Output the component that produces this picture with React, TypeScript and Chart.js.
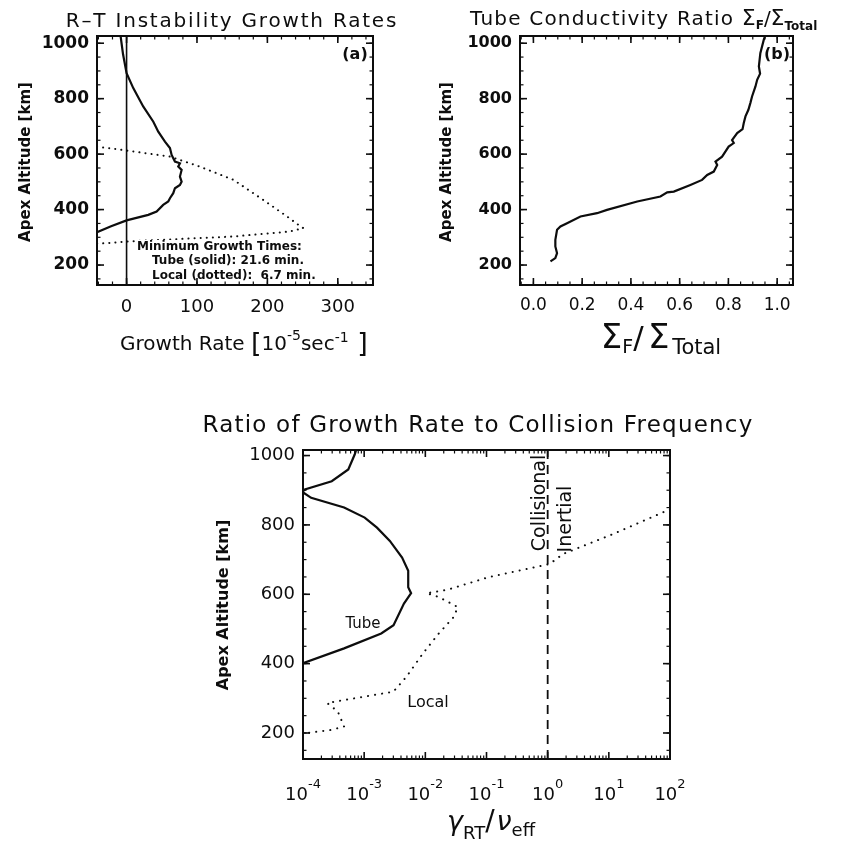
import React, { useEffect, useRef } from "react";
import { Chart, registerables } from "chart.js";

Chart.register(...registerables);

const FONT = "'DejaVu Sans', sans-serif";
const INK = "#0d0d0d";

// ---------- Panel (a): R-T instability growth rates ----------
const altTubeA = [1026, 960, 892, 838, 772, 717, 681, 645, 622, 597, 573, 567, 555, 543, 519, 501, 489, 477, 459, 441, 429, 417, 393, 381, 361, 340, 318];
const rateTubeA = [-8.5, -5, 0, 9.5, 23.6, 38, 45, 54.5, 61.6, 64, 68.7, 75.8, 73.4, 78.2, 75.8, 78.2, 75.8, 68.7, 66.3, 61.6, 59.2, 52, 42.7, 30.8, 0, -22, -42];
const altLocalA = [626, 622, 613, 591, 555, 507, 435, 375, 345, 333, 321, 303, 285, 279, 277];
const rateLocalA = [-42, -26, 0, 61.6, 104, 152, 194, 228, 244, 251, 232, 152, 0, -28.5, -42];
const zeroRateA = [0, 0];
const altRangeAB = [128, 1026];
const rateRangeA = [-42, 350];
const rateTicksA = [0, 100, 200, 300];
const altTicks = [200, 400, 600, 800, 1000];

// ---------- Panel (b): tube conductivity ratio ----------
const altRatioB = [213, 225, 243, 267, 291, 327, 339, 351, 375, 387, 399, 429, 447, 462, 465, 489, 507, 525, 537, 561, 573, 591, 627, 640, 651, 676, 690, 712, 736, 760, 784, 808, 844, 868, 890, 916, 964, 1012, 1030];
const ratioB = [0.07, 0.09, 0.097, 0.09, 0.09, 0.097, 0.111, 0.138, 0.193, 0.261, 0.302, 0.426, 0.521, 0.549, 0.576, 0.644, 0.692, 0.713, 0.74, 0.754, 0.747, 0.774, 0.801, 0.822, 0.815, 0.836, 0.858, 0.863, 0.87, 0.882, 0.89, 0.897, 0.911, 0.918, 0.93, 0.925, 0.931, 0.945, 0.952];
const ratioRangeB = [-0.055, 1.065];
const ratioTicksB = [0, 0.2, 0.4, 0.6, 0.8, 1.0];

// ---------- Panel (c): growth rate / collision frequency ----------
const altTubeC = [1016, 1003, 960, 926, 902, 895, 878, 850, 821, 792, 754, 706, 668, 620, 603, 573, 511, 487, 444, 401];
const ratioTubeC = [7.4e-4, 7.0e-4, 5.5e-4, 2.95e-4, 1.07e-4, 0.98e-4, 1.36e-4, 4.7e-4, 1.02e-3, 1.62e-3, 2.63e-3, 4.17e-3, 5.25e-3, 5.25e-3, 5.85e-3, 4.47e-3, 3.02e-3, 1.9e-3, 4.7e-4, 1.0e-4];
const altLocalC = [845, 773, 716, 687, 649, 613, 603, 592, 563, 534, 487, 429, 362, 319, 305, 291, 286, 262, 219, 209, 200];
const ratioLocalC = [100, 11.5, 1.78, 1.07, 0.107, 0.023, 0.0105, 0.0166, 0.034, 0.029, 0.0166, 0.0091, 0.0049, 0.003, 1.02e-3, 3.5e-4, 2.5e-4, 3.7e-4, 4.7e-4, 2.95e-4, 1.17e-4];
const altRangeC = [125, 1016];
const ratioRangeC = [1e-4, 1e2];
const ratioExpC = [-4, -3, -2, -1, 0, 1, 2];
const boundaryC = [1, 1];

const pts = (xs: number[], ys: number[]) => xs.map((x, i) => ({ x, y: ys[i] }));

type Seg = { t: string; f: string; dy?: number; ls?: number };
type Item = {
  segs: Seg[];
  x: number;
  y: number;
  align?: "left" | "center" | "right";
  rot?: number;
  bg?: [number, number];
};

function drawRich(ctx: CanvasRenderingContext2D, it: Item) {
  const c = ctx as any;
  ctx.save();
  ctx.translate(it.x, it.y);
  if (it.rot) ctx.rotate(it.rot);
  ctx.textAlign = "left";
  ctx.textBaseline = "alphabetic";
  const ws = it.segs.map((s) => {
    ctx.font = s.f;
    c.letterSpacing = `${s.ls || 0}px`;
    return ctx.measureText(s.t).width;
  });
  const total = ws.reduce((a, b) => a + b, 0);
  let cx = it.align === "center" ? -total / 2 : it.align === "right" ? -total : 0;
  if (it.bg) {
    ctx.fillStyle = "#ffffff";
    ctx.fillRect(cx - 2, it.bg[0], total + 4, it.bg[1] - it.bg[0]);
  }
  ctx.fillStyle = INK;
  it.segs.forEach((s, i) => {
    ctx.font = s.f;
    c.letterSpacing = `${s.ls || 0}px`;
    ctx.fillText(s.t, cx, s.dy || 0);
    cx += ws[i];
  });
  c.letterSpacing = "0px";
  ctx.restore();
}

function framePlugin(opts: { xStep?: number; yStep: number; logX?: boolean }) {
  return {
    id: "frameTicks",
    afterDatasetsDraw(chart: any) {
      const { ctx, chartArea: a, scales } = chart;
      const xs = scales.x;
      const ys = scales.y;
      const seg = (x1: number, y1: number, x2: number, y2: number) => {
        ctx.beginPath();
        ctx.moveTo(x1, y1);
        ctx.lineTo(x2, y2);
        ctx.stroke();
      };
      const xt = (v: number, len: number) => {
        const p = xs.getPixelForValue(v);
        if (p < a.left + 1 || p > a.right - 1) return;
        seg(p, a.bottom, p, a.bottom - len);
        seg(p, a.top, p, a.top + len);
      };
      const yt = (v: number, len: number) => {
        const p = ys.getPixelForValue(v);
        if (p < a.top + 1 || p > a.bottom - 1) return;
        seg(a.left, p, a.left + len, p);
        seg(a.right, p, a.right - len, p);
      };
      ctx.save();
      ctx.strokeStyle = INK;
      ctx.lineWidth = 1.2;
      const xMinors: number[] = [];
      if (opts.logX) {
        const e0 = Math.round(Math.log10(xs.min));
        const e1 = Math.round(Math.log10(xs.max));
        for (let e = e0; e < e1; e++) for (let k = 2; k < 10; k++) xMinors.push(k * Math.pow(10, e));
      } else if (opts.xStep) {
        const st = opts.xStep;
        for (let i = Math.ceil(xs.min / st); i * st <= xs.max + 1e-9; i++) xMinors.push(i * st);
      }
      xMinors.forEach((v) => xt(v, 3.5));
      const yst = opts.yStep;
      for (let i = Math.ceil(ys.min / yst); i * yst <= ys.max; i++) yt(i * yst, 3.5);
      ctx.lineWidth = 1.6;
      xs.ticks.forEach((t: any) => xt(t.value, 7));
      ys.ticks.forEach((t: any) => yt(t.value, 7));
      ctx.lineWidth = 2;
      ctx.strokeRect(a.left, a.top, a.right - a.left, a.bottom - a.top);
      ctx.restore();
    },
  };
}

function textPlugin(items: Item[], extra?: (chart: any) => void) {
  return {
    id: "richText",
    afterDraw(chart: any) {
      items.forEach((it) => drawRich(chart.ctx, it));
      if (extra) extra(chart);
    },
  };
}

const baseOptions = (padding: any) => ({
  responsive: false,
  maintainAspectRatio: false,
  animation: false,
  devicePixelRatio: 1,
  events: [],
  layout: { padding },
  plugins: {
    legend: { display: false },
    tooltip: { enabled: false },
    title: { display: false },
  },
});

const solid = (data: any[], w = 2) => ({
  data,
  showLine: true,
  borderColor: INK,
  backgroundColor: INK,
  borderWidth: w,
  pointRadius: 0,
  tension: 0,
});

const dotted = (data: any[], gap = 6) => ({
  data,
  showLine: true,
  borderColor: INK,
  backgroundColor: INK,
  borderWidth: 2,
  borderDash: [0.1, gap],
  borderCapStyle: "round",
  pointRadius: 0,
  tension: 0,
});

const hidden = { display: false, drawTicks: false };
const PI2 = -Math.PI / 2;

function configA(): any {
  return {
    type: "scatter",
    data: {
      datasets: [
        solid(pts(zeroRateA, altRangeAB), 1.6),
        solid(pts(rateTubeA, altTubeA), 2.2),
        dotted(pts(rateLocalA, altLocalA), 6),
      ],
    },
    options: {
      ...baseOptions({ left: 0, top: 36, right: 47, bottom: 0 }),
      scales: {
        x: {
          type: "linear",
          min: rateRangeA[0],
          max: rateRangeA[1],
          afterBuildTicks: (s: any) => { s.ticks = rateTicksA.map((v) => ({ value: v })); },
          afterFit: (s: any) => { s.height = 85; },
          grid: hidden,
          border: { display: false },
          ticks: { color: INK, padding: 12, autoSkip: false, maxRotation: 0, font: { family: FONT, size: 18 }, callback: (v: any) => String(v) },
        },
        y: {
          type: "linear",
          min: altRangeAB[0],
          max: altRangeAB[1],
          afterBuildTicks: (s: any) => { s.ticks = altTicks.map((v) => ({ value: v })); },
          afterFit: (s: any) => { s.width = 97; },
          grid: hidden,
          border: { display: false },
          ticks: { color: INK, padding: 8, autoSkip: false, font: { family: FONT, size: 17, weight: "bold" }, callback: (v: any) => String(v) },
        },
      },
    },
    plugins: [
      framePlugin({ xStep: 20, yStep: 50 }),
      textPlugin([
        { segs: [{ t: "R–T Instability Growth Rates", f: `20px ${FONT}`, ls: 1.8 }], x: 232, y: 27, align: "center" },
        { segs: [{ t: "Apex Altitude [km]", f: `bold 15px ${FONT}` }], x: 30, y: 162, align: "center", rot: PI2 },
        {
          segs: [
            { t: "Growth Rate ", f: `20px ${FONT}` },
            { t: "[", f: `27px ${FONT}`, dy: 2 },
            { t: "10", f: `20px ${FONT}` },
            { t: "-5", f: `14px ${FONT}`, dy: -10 },
            { t: "sec", f: `20px ${FONT}` },
            { t: "-1", f: `14px ${FONT}`, dy: -8 },
            { t: " ]", f: `27px ${FONT}`, dy: 2 },
          ],
          x: 120, y: 350, align: "left",
        },
        { segs: [{ t: "(a)", f: `bold 16px ${FONT}` }], x: 355, y: 59, align: "center" },
        { segs: [{ t: "Minimum Growth Times:", f: `bold 12px ${FONT}` }], x: 137, y: 250, align: "left", bg: [-10, 3] },
        { segs: [{ t: "Tube (solid): 21.6 min.", f: `bold 12px ${FONT}` }], x: 152, y: 264, align: "left" },
        { segs: [{ t: "Local (dotted):  6.7 min.", f: `bold 12px ${FONT}` }], x: 152, y: 279, align: "left" },
      ]),
    ],
  };
}

function configB(): any {
  return {
    type: "scatter",
    data: { datasets: [solid(pts(ratioB, altRatioB), 2.2)] },
    options: {
      ...baseOptions({ left: 0, top: 36, right: 50, bottom: 0 }),
      scales: {
        x: {
          type: "linear",
          min: ratioRangeB[0],
          max: ratioRangeB[1],
          afterBuildTicks: (s: any) => { s.ticks = ratioTicksB.map((v) => ({ value: v })); },
          afterFit: (s: any) => { s.height = 85; },
          grid: hidden,
          border: { display: false },
          ticks: { color: INK, padding: 10, autoSkip: false, maxRotation: 0, font: { family: FONT, size: 17 }, callback: (v: any) => Number(v).toFixed(1) },
        },
        y: {
          type: "linear",
          min: altRangeAB[0],
          max: altRangeAB[1],
          afterBuildTicks: (s: any) => { s.ticks = altTicks.map((v) => ({ value: v })); },
          afterFit: (s: any) => { s.width = 100; },
          grid: hidden,
          border: { display: false },
          ticks: { color: INK, padding: 8, autoSkip: false, font: { family: FONT, size: 16, weight: "bold" }, callback: (v: any) => String(v) },
        },
      },
    },
    plugins: [
      framePlugin({ xStep: 0.05, yStep: 50 }),
      textPlugin([
        {
          segs: [
            { t: "Tube Conductivity Ratio ", f: `20px ${FONT}`, ls: 1.2 },
            { t: "Σ", f: `22px ${FONT}` },
            { t: "F", f: `bold 12px ${FONT}`, dy: 4 },
            { t: "/", f: `20px ${FONT}` },
            { t: "Σ", f: `22px ${FONT}` },
            { t: "Total", f: `bold 12px ${FONT}`, dy: 5 },
          ],
          x: 50, y: 25, align: "left",
        },
        { segs: [{ t: "Apex Altitude [km]", f: `bold 15px ${FONT}` }], x: 31, y: 162, align: "center", rot: PI2 },
        {
          segs: [
            { t: "Σ", f: `34px ${FONT}` },
            { t: "F", f: `19px ${FONT}`, dy: 5 },
            { t: "/", f: `31px ${FONT}` },
            { t: " ", f: `14px ${FONT}` },
            { t: "Σ", f: `34px ${FONT}` },
            { t: " ", f: `8px ${FONT}` },
            { t: "Total", f: `21px ${FONT}`, dy: 6 },
          ],
          x: 241, y: 348, align: "center",
        },
        { segs: [{ t: "(b)", f: `bold 16px ${FONT}` }], x: 357, y: 59, align: "center" },
      ]),
    ],
  };
}

function configC(): any {
  return {
    type: "scatter",
    data: {
      datasets: [
        solid(pts(ratioTubeC, altTubeC), 2.2),
        dotted(pts(ratioLocalC, altLocalC), 7),
        { ...solid(pts(boundaryC, altRangeC), 1.8), borderDash: [9, 6] },
      ],
    },
    options: {
      ...baseOptions({ left: 0, top: 50, right: 173, bottom: 0 }),
      scales: {
        x: {
          type: "logarithmic",
          min: ratioRangeC[0],
          max: ratioRangeC[1],
          afterBuildTicks: (s: any) => { s.ticks = ratioExpC.map((e) => ({ value: Math.pow(10, e) })); },
          afterFit: (s: any) => { s.height = 84; },
          grid: hidden,
          border: { display: false },
          ticks: { display: false },
        },
        y: {
          type: "linear",
          min: altRangeC[0],
          max: altRangeC[1],
          afterBuildTicks: (s: any) => { s.ticks = altTicks.map((v) => ({ value: v })); },
          afterFit: (s: any) => { s.width = 103; },
          grid: hidden,
          border: { display: false },
          ticks: { color: INK, padding: 8, autoSkip: false, font: { family: FONT, size: 18 }, callback: (v: any) => String(v) },
        },
      },
    },
    plugins: [
      framePlugin({ logX: true, yStep: 50 }),
      textPlugin(
        [
          { segs: [{ t: "Ratio of Growth Rate to Collision Frequency", f: `23px ${FONT}`, ls: 1.2 }], x: 278, y: 32, align: "center" },
          { segs: [{ t: "Apex Altitude [km]", f: `bold 16px ${FONT}` }], x: 28, y: 205, align: "center", rot: PI2 },
          {
            segs: [
              { t: "γ", f: `italic 27px ${FONT}` },
              { t: "RT", f: `18px ${FONT}`, dy: 9 },
              { t: "/", f: `28px ${FONT}` },
              { t: " ", f: `6px ${FONT}` },
              { t: "ν", f: `italic 27px ${FONT}` },
              { t: "eff", f: `18px ${FONT}`, dy: 6 },
            ],
            x: 291, y: 430, align: "center",
          },
          { segs: [{ t: "Tube", f: `15px ${FONT}` }], x: 163, y: 228, align: "center" },
          { segs: [{ t: "Local", f: `16px ${FONT}` }], x: 228, y: 307, align: "center" },
          { segs: [{ t: "Collisional", f: `19px ${FONT}` }], x: 345, y: 103, align: "center", rot: PI2 },
          { segs: [{ t: "Inertial", f: `19px ${FONT}` }], x: 371, y: 119, align: "center", rot: PI2 },
        ],
        (chart: any) => {
          const xs = chart.scales.x;
          const base = chart.chartArea.bottom + 41;
          xs.ticks.forEach((t: any) => {
            const e = Math.round(Math.log10(t.value));
            drawRich(chart.ctx, {
              segs: [
                { t: "10", f: `18px ${FONT}` },
                { t: e < 0 ? `-${-e}` : String(e), f: `13px ${FONT}`, dy: -12 },
              ],
              x: xs.getPixelForValue(t.value),
              y: base,
              align: "center",
            });
          });
        }
      ),
    ],
  };
}

function Panel(props: { left: number; top: number; width: number; height: number; make: () => any }) {
  const ref = useRef<HTMLCanvasElement>(null);
  useEffect(() => {
    const chart = new Chart(ref.current as HTMLCanvasElement, props.make());
    return () => chart.destroy();
  }, []);
  return (
    <canvas
      ref={ref}
      width={props.width}
      height={props.height}
      style={{ position: "absolute", left: props.left, top: props.top, width: props.width, height: props.height }}
    />
  );
}

export default function App() {
  return (
    <div style={{ position: "absolute", left: 0, top: 0, width: 843, height: 843, background: "#ffffff", overflow: "hidden" }}>
      <Panel left={0} top={0} width={420} height={370} make={configA} />
      <Panel left={420} top={0} width={423} height={370} make={configB} />
      <Panel left={200} top={400} width={643} height={443} make={configC} />
    </div>
  );
}
